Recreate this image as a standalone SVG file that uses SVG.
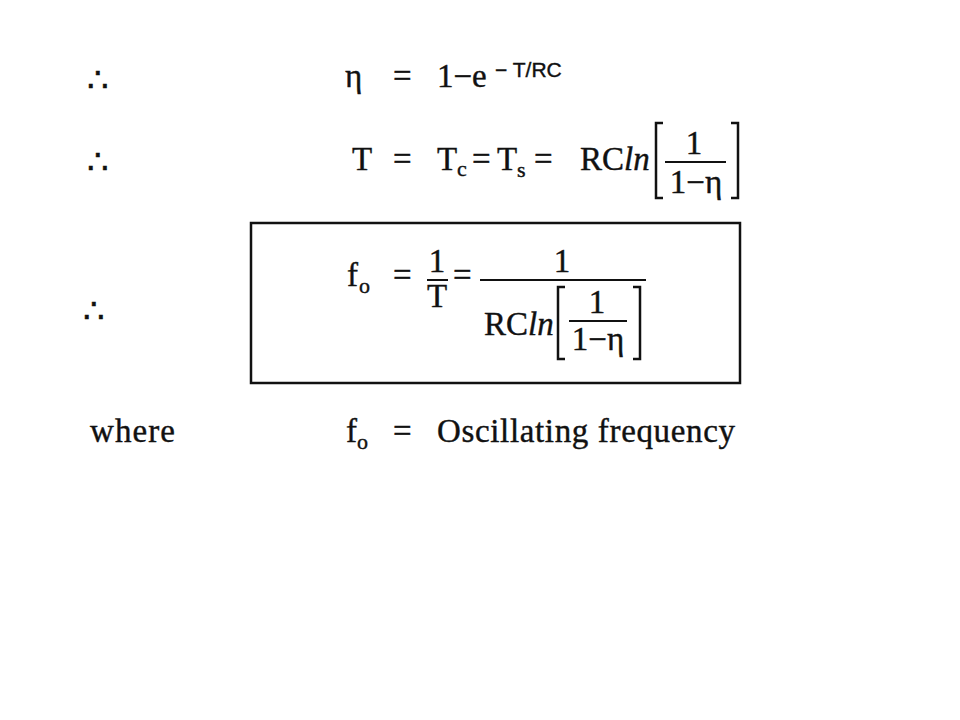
<svg xmlns="http://www.w3.org/2000/svg" width="960" height="720" viewBox="0 0 960 720">
<style>
text{font-family:"Liberation Serif","DejaVu Serif",serif;font-size:33px;fill:#111;stroke:#111;stroke-width:0.4}
.sub{font-size:22px}
.sup{font-size:21px;font-family:"Liberation Sans","DejaVu Sans",sans-serif}
.it{font-style:italic}
.c{text-anchor:middle}
.dots{font-size:34px}
.ln{stroke:#111;stroke-width:2;fill:none}
.br{stroke:#111;stroke-width:2.5;fill:none}
</style>
<rect width="960" height="720" fill="#fff"/>
<g id="line1">
<text class="dots" x="87" y="92">∴</text>
<text x="345" y="87">η</text>
<text x="393" y="87">=</text>
<text x="437" y="87">1−e</text>
<text class="sup" x="495" y="77">− T/RC</text>
</g>
<g id="line2">
<text class="dots" x="87" y="174">∴</text>
<text x="352" y="170">T</text>
<text x="393" y="170">=</text>
<text x="437" y="170">T</text><text class="sub" x="457" y="176">c</text>
<text x="472" y="170">=</text>
<text x="497" y="170">T</text><text class="sub" x="517" y="177">s</text>
<text x="534" y="170">=</text>
<text x="580" y="170">RC<tspan class="it">ln</tspan></text>
<path class="br" d="M663,123 H656 V198 H663"/>
<text class="c" x="694" y="154">1</text>
<line class="ln" x1="665" y1="162" x2="726" y2="162"/>
<text class="c" x="696" y="193">1−η</text>
<path class="br" d="M731,123 H738 V198 H731"/>
</g>
<g id="box">
<rect x="251" y="223" width="489" height="160" fill="none" stroke="#111" stroke-width="2.5"/>
<text class="dots" x="83" y="323">∴</text>
<text x="347" y="286">f</text><text class="sub" x="359" y="293">o</text>
<text x="393" y="286">=</text>
<text class="c" x="437" y="272">1</text>
<line class="ln" x1="427" y1="280" x2="448" y2="280"/>
<text class="c" x="437" y="307">T</text>
<text x="453" y="286">=</text>
<text class="c" x="562" y="272">1</text>
<line class="ln" x1="480" y1="280" x2="646" y2="280"/>
<text x="484" y="335">RC<tspan class="it">ln</tspan></text>
<path class="br" d="M565,287 H558 V359 H565"/>
<text class="c" x="597" y="313">1</text>
<line class="ln" x1="569" y1="321" x2="627" y2="321"/>
<text class="c" x="598" y="350">1−η</text>
<path class="br" d="M633,287 H640 V359 H633"/>
</g>
<g id="line4">
<text x="90" y="442" textLength="85">where</text>
<text x="346" y="442">f</text><text class="sub" x="357" y="449">o</text>
<text x="393" y="442">=</text>
<text x="437" y="442" textLength="298">Oscillating frequency</text>
</g>
</svg>
